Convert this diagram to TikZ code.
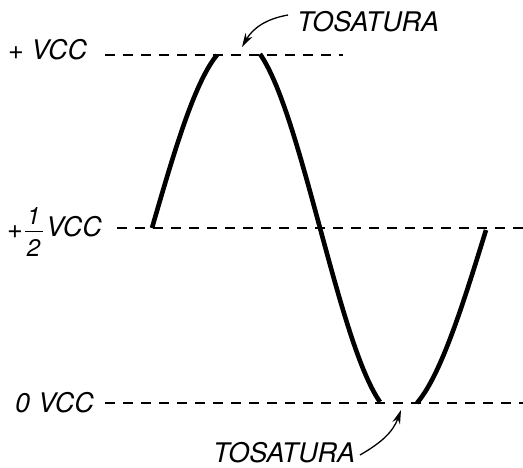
\documentclass[tikz,border=0pt]{standalone}
\usepackage{fontspec}
\setmainfont{TeX Gyre Heros}
\usetikzlibrary{arrows.meta}
\begin{document}
\begin{tikzpicture}[x=1pt,y=1pt,
  lbl/.style={inner sep=0pt,anchor=base west,font=\fontsize{27}{30}\selectfont\itshape},
  refline/.style={line width=1.2pt,dash pattern=on 10pt off 8pt},
  wave/.style={line width=4.6pt},
  callout/.style={line width=1.3pt,-{Stealth[length=14pt,width=8pt]}}]
\useasboundingbox (0,0) rectangle (523,-468);
% reference lines
\coordinate (topL) at (105,-55);  \coordinate (topR) at (343,-55);
\coordinate (midL) at (117,-228); \coordinate (midR) at (523,-228);
\coordinate (botL) at (105,-403); \coordinate (botR) at (523,-403);
\draw[refline] (topL) -- (topR);
\draw[refline] (midL) -- (midR);
\draw[refline] (botL) -- (botR);
% labels
\node[lbl] (vccp) at (8,-60) {+ VCC};
\node[lbl] (halfplus) at (7,-239) {+};
\node[inner sep=0pt,font=\fontsize{24}{26}\selectfont\itshape] (num) at (33.5,-216) {1};
\node[inner sep=0pt,font=\fontsize{24}{26}\selectfont\itshape] (den) at (33.5,-248) {2};
\coordinate (barL) at (25,-231); \coordinate (barR) at (43,-231);
\draw[line width=0.9pt] (barL) -- (barR);
\node[lbl] (vcchalf) at (46,-237) {VCC};
\node[lbl] (vcczero) at (15,-412) {0\hspace{8pt}VCC};
\node[lbl] (tostop) at (297,-32) {TOSATURA};
\node[lbl] (tosbot) at (213,-462) {TOSATURA};
% wave
\draw[wave] plot[domain=0:69.6,samples=40,variable=\t]
  ({152+65*\t/69.6},{-228+173*sin(\t)/sin(69.6)});
\draw[wave] plot[domain=-67:67,samples=60,variable=\t]
  ({320+60*\t/67},{-228-174*sin(\t)/sin(67)});
\draw[wave] plot[domain=0:69,samples=40,variable=\t]
  ({486-69*\t/69},{-230-173*sin(\t)/sin(69)});
% callouts
\coordinate (tiptop) at (242,-47);
\coordinate (tailtop) at (288,-15);
\coordinate (tipbot) at (401,-410);
\coordinate (tailbot) at (360,-455);
\draw[callout] (tailtop) to[out=190,in=60] (tiptop);
\draw[callout] (tailbot) to[out=30,in=250] (tipbot);
\end{tikzpicture}
\end{document}
